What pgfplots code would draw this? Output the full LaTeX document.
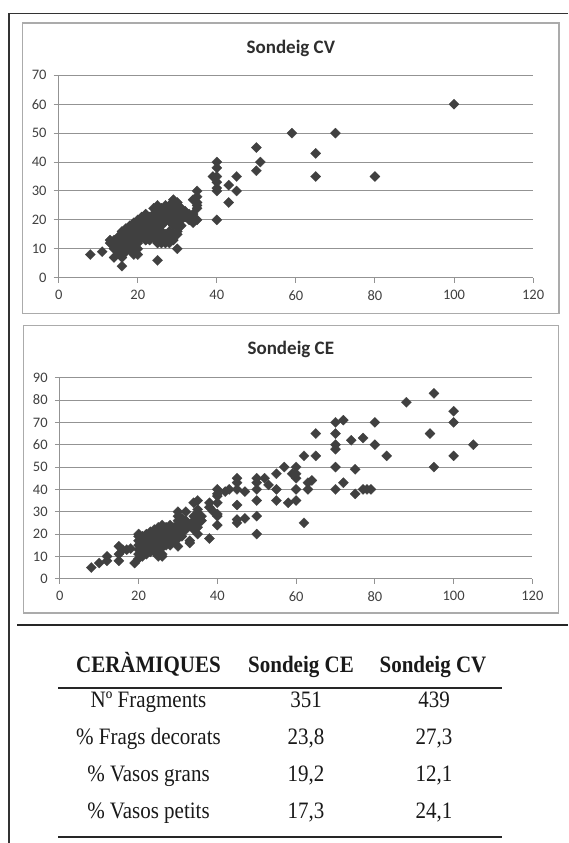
\documentclass[border=0pt]{standalone}
\usepackage{fontspec}
\setmainfont{Liberation Serif}
\newfontfamily\carlito{Carlito}
\usepackage{pgfplots}
\usepackage{pgfplotstable}
\pgfplotsset{compat=1.18}

\definecolor{mk}{HTML}{404040}
\definecolor{gridc}{HTML}{939393}
\definecolor{boxc}{HTML}{ABABAB}
\definecolor{txt}{HTML}{404040}
\definecolor{ttl}{HTML}{2E2E2E}

\pgfplotstableread{
x y
100 60
59 50
70 50
50 45
51 40
50 37
65 43
65 35
80 35
45 35
45 30
43 32
43 26
40 40
40 38
39 35
40 35
40 33
40 31
40 30
40 20
35 30
35 28
34 27
35 26
35 25
35 24
34 22
35 20
34 19
33 20
32 22
31 23
30 10
25 6
16 4
16 7
14 7
8 8
11 9
13 12
13 13
14 10
14 11
14 12
14 13
15 9
15 11
15 12
15 13
15 14
16 10
16 12
16 13
16 14
16 15
16 16
17 9
17 11
17 13
17 14
17 15
17 16
17 17
18 10
18 12
18 14
18 15
18 16
18 17
18 18
19 8
19 9
19 11
19 13
19 15
19 16
19 17
19 18
19 19
20 8
20 10
20 12
20 14
20 16
20 17
20 18
20 19
20 20
21 14
21 15
21 17
21 18
21 19
21 20
21 21
22 13
22 15
22 16
22 18
22 19
22 20
22 22
23 13
23 14
23 16
23 19
23 20
23 21
24 14
24 16
24 18
24 20
24 22
24 24
25 12
25 13
25 15
25 17
25 19
25 21
25 23
25 25
26 12
26 14
26 16
26 18
26 20
26 22
26 24
27 12
27 13
27 15
27 19.5
27 20
27 22
27 23
27 25
28 12
28 14
28 16
28 19.5
28 21
28 22
28 24
28 25
29 13
29 15
29 18
29 20
29 22
29 24
29 26
29 27
30 15
30 16
30 18
30 20
30 21
30 23
30 25
30 26
31 18
31 20
31 22
31 24
32 21
32 23
33 22
}\cvdata

\pgfplotstableread{
x y
95 83
88 79
100 75
100 70
94 65
105 60
100 55
95 50
80 70
80 60
83 55
77 63
74 62
75 49
75 38
77 40
78 40
79 40
72 71
70 70
70 65
70 60
70 58
70 50
70 40
72 43
65 65
65 55
62 55
64 44
63 43
63 40
62 25
60 50
60 45
60 47
59 47
60 40
60 35
58 34
57 50
55 47
55 40
55 35
53 42
52 45
50 45
50 43
50 40
50 35
50 28
50 20
47 39
47 27
45 45
45 43
45 40
45 33
45 26.5
45 25
43 40
42 39
40 40
40 38
40 37
40 34
40 29
40 28
40 24
38 34
38 32
39 30
38 18
35 35
34 34
35 29
35 27
35 25
35 23
35 20
33 17
33 16
32 30
31 27
30 30
30 14.5
28 15
8 5
10 7
12 10
12 8
15 14.5
15 8
15 11
16 13
17 13
18 13.5
19 7
20 9
20 11
20 13
20 15
20 17
20 19
20 20
21 10
21 12
21 14
21 16
21 17
21 18
21 19
22 11
22 13
22 14
22 15
22 16
22 17
22 18
22 19
22 20
23 12
23 14
23 15
23 16
23 17
23 18
23 19
23 20
23 21
24 12
24 13
24 15
24 16
24 17
24 18
24 19
24 20
24 21
24 22
25 10
25 12
25 14
25 16
25 17
25 18
25 19
25 20
25 22
25 23
26 10
26 11
26 14
26 16
26 18
26 19
26 20
26 21
26 22
26 24
27 15
27 17
27 18
27 19
27 20
27 21
27 22
27 23
28 16
28 17
28 18
28 20
28 21
28 22
28 24
29 17
29 19
29 20
29 21
29 22
29 23
30 18
30 20
30 22
30 24
30 26
30 28
31 19
31 21
31 23
31 25
32 22
32 24
32 26
33 24
34 22
34 24
34 26
34 28
35 31
36 26
36 28
}\cedata

\pgfplotsset{
  sc/.style={
    scale only axis,
    axis lines=left,
    axis line style={-, draw=gridc, line width=1pt},
    ymajorgrids,
    grid style={draw=gridc, line width=1pt},
    tick align=outside,
    major tick length=5pt,
    tick style={draw=gridc, line width=1pt},
    xmin=0, xmax=120, xtick={0,20,...,120},
    ymin=0,
    /pgf/number format/assume math mode=true,
    ticklabel style={font=\carlito\fontsize{14.5}{15}\selectfont, text=txt},
    xticklabel style={anchor=center, yshift=-12.5pt},
    yticklabel style={anchor=east, inner sep=0pt, xshift=-7pt},
    clip=false,
  },
  mks/.style={only marks, mark=square*, mark size=3.6pt,
    mark options={rotate=45, fill=mk, draw=mk, line width=0.2pt}},
}

\begin{document}
\begin{tikzpicture}
\path[use as bounding box] (0pt,0pt) rectangle (568pt,-843pt);
\fill[white] (0pt,0pt) rectangle (568pt,-843pt);

% outer frame
\draw[line width=1.3pt, black!80] (568pt,-13.5pt) -- (9pt,-13.5pt) -- (9pt,-843pt);

% chart boxes
\draw[boxc, line width=1.5pt] (22.5pt,-23pt) rectangle (559pt,-313.3pt);
\draw[boxc, line width=1.5pt] (23.5pt,-325.5pt) rectangle (558.5pt,-613pt);

\begin{axis}[sc, at={(58.7pt,-277.7pt)}, anchor=south west,
  width=474.4pt, height=202.4pt, ymax=70, ytick={0,10,...,70}]
  \addplot[mks] table {\cvdata};
\end{axis}
\node[font=\carlito\bfseries\fontsize{19}{19}\selectfont, text=ttl] at (290.8pt,-48pt) {Sondeig CV};

\begin{axis}[sc, at={(59.8pt,-578.7pt)}, anchor=south west,
  width=472.6pt, height=201pt, ymax=90, ytick={0,10,...,90}]
  \addplot[mks] table {\cedata};
\end{axis}
\node[font=\carlito\bfseries\fontsize{19}{19}\selectfont, text=ttl] at (290.8pt,-349pt) {Sondeig CE};

% separator
\draw[line width=2.5pt, black!85] (17pt,-625pt) -- (568pt,-625pt);

% table
\begin{scope}[every node/.style={anchor=base, inner sep=0pt, yscale=1.12, text=black!90, font=\fontsize{21}{21}\selectfont}]
\node[font=\bfseries\fontsize{21}{21}\selectfont] at (148.5pt,-672.7pt) {CERÀMIQUES};
\node[font=\bfseries\fontsize{21}{21}\selectfont] at (301pt,-672.7pt) {Sondeig CE};
\node[font=\bfseries\fontsize{21}{21}\selectfont] at (433pt,-672.7pt) {Sondeig CV};
\node at (148.5pt,-707.5pt) {Nº Fragments};
\node at (306pt,-707.5pt) {351};
\node at (434pt,-707.5pt) {439};
\node at (148.5pt,-744.5pt) {\% Frags decorats};
\node at (306pt,-744.5pt) {23,8};
\node at (434pt,-744.5pt) {27,3};
\node at (148.5pt,-781.5pt) {\% Vasos grans};
\node at (306pt,-781.5pt) {19,2};
\node at (434pt,-781.5pt) {12,1};
\node at (148.5pt,-818.3pt) {\% Vasos petits};
\node at (306pt,-818.3pt) {17,3};
\node at (434pt,-818.3pt) {24,1};
\end{scope}
\draw[line width=1.5pt, black!85] (58pt,-688pt) -- (501.6pt,-688pt);
\draw[line width=2pt, black!85] (58pt,-837pt) -- (501.6pt,-837pt);
\end{tikzpicture}
\end{document}
